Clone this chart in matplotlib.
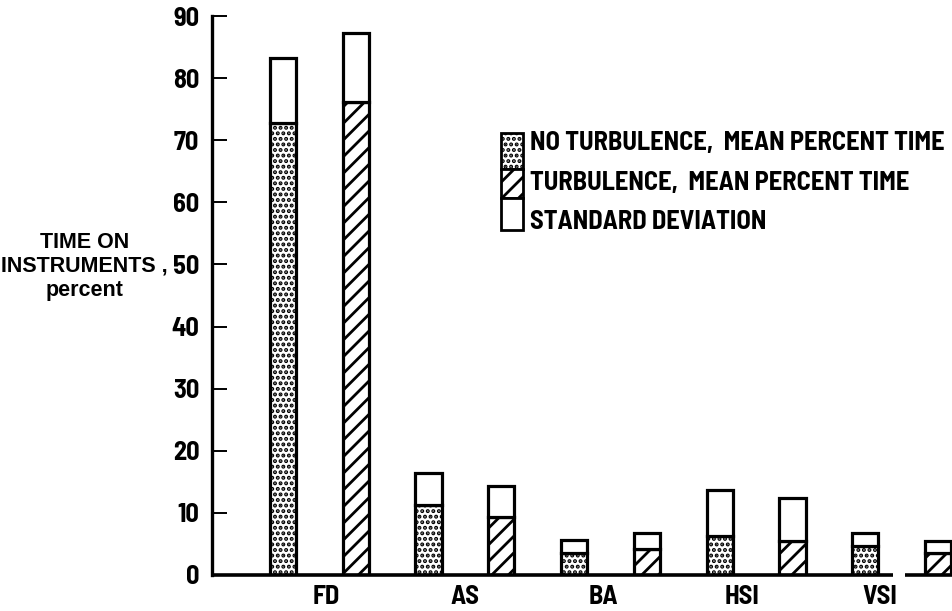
import numpy as np
import matplotlib
matplotlib.use("Agg")
import matplotlib.pyplot as plt
from matplotlib.patches import Rectangle

plt.rcParams['font.family'] = ['Barlow Semi Condensed', 'Roboto', 'DejaVu Sans']
plt.rcParams['font.weight'] = 'bold'
plt.rcParams['hatch.linewidth'] = 2.0

# instruments, two bars each: no turbulence then turbulence
instruments = ['FD', 'AS', 'BA', 'HSI', 'VSI']
no_turb_mean = [72.8, 11.2, 3.6, 6.3, 4.6]
no_turb_sd = [10.4, 5.2, 2.1, 7.4, 2.1]
turb_mean = [76.1, 9.4, 4.2, 5.5, 3.6]
turb_sd = [11.2, 4.9, 2.5, 6.9, 1.8]

fig = plt.figure(figsize=(9.52, 6.11), dpi=100)
ax = fig.add_axes([212 / 952, 36 / 611, 740 / 952, 559 / 611])

n = len(instruments)
x_nt = np.arange(n) * 2
x_t = x_nt + 1
w = 0.36
bar_kw = dict(width=w, edgecolor='black', linewidth=2.3)

ax.bar(x_nt, no_turb_mean, color='white', hatch='...', **bar_kw)
ax.bar(x_nt, no_turb_sd, bottom=no_turb_mean, color='white', **bar_kw)
ax.bar(x_t, turb_mean, color='white', hatch='//', **bar_kw)
ax.bar(x_t, turb_sd, bottom=turb_mean, color='white', **bar_kw)

ax.set_xlim(-0.975, 9.19)
ax.set_ylim(0, 90)

for s in ['top', 'right', 'bottom']:
    ax.spines[s].set_visible(False)
ax.spines['left'].set_linewidth(2.4)

# baseline drawn in two pieces, with a small break near the last pair
ax.hlines(0, -0.975, 8.38, color='black', linewidth=2.6, clip_on=False)
ax.hlines(0, 8.54, 9.19, color='black', linewidth=2.6, clip_on=False)

ax.set_yticks(np.arange(0, 91, 10))
ax.tick_params(axis='y', direction='in', length=11, width=1.4, pad=9,
               labelsize=19)
ax.get_yticklines()[0].set_visible(False)

ax.set_xticks(0.6 + 1.9 * np.arange(n))
ax.set_xticklabels(instruments)
ax.tick_params(axis='x', length=0, pad=7, labelsize=19)

ax.set_ylabel('TIME ON\nINSTRUMENTS ,\npercent', rotation=0, fontsize=15.5,
              family=['Liberation Sans', 'DejaVu Sans'], fontweight='bold',
              ha='center', va='center', linespacing=1.2)
ax.yaxis.set_label_coords(-0.172, 0.552)

# key: three stacked swatches next to their descriptions
bx, bw = 0.3905, 0.0297
swatches = [(0.726, 0.065, '...'), (0.674, 0.052, '//'), (0.617, 0.057, None)]
for y0, h, hatch in swatches:
    ax.add_patch(Rectangle((bx, y0), bw, h, transform=ax.transAxes,
                           facecolor='white', edgecolor='black',
                           linewidth=2.0, hatch=hatch, clip_on=False))
labels = ['NO TURBULENCE,  MEAN PERCENT TIME',
          'TURBULENCE,  MEAN PERCENT TIME',
          'STANDARD DEVIATION']
for ty, txt in zip([0.773, 0.701, 0.631], labels):
    ax.text(0.43, ty, txt, transform=ax.transAxes, fontsize=19,
            va='center', ha='left')

fig.savefig('out.png', dpi=100)
